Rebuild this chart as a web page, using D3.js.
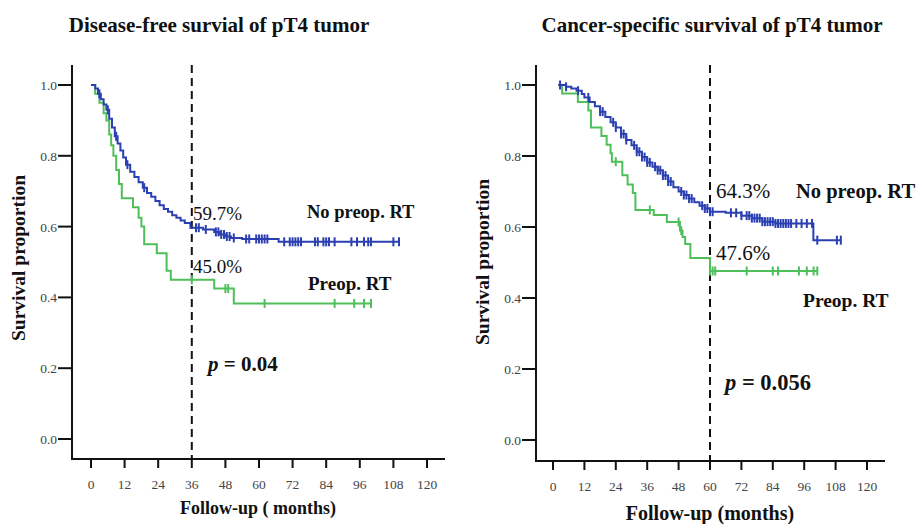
<!DOCTYPE html>
<html>
<head>
<meta charset="utf-8">
<script src="https://cdn.jsdelivr.net/npm/d3@7"></script>
<style>
  body { margin: 0; background: #fff; }
  svg text { font-family: "Liberation Serif", "Times New Roman", serif; }
</style>
</head>
<body>
<div id="chart"></div>
<script>
// ---- data ----
var x_ticks = [0, 12, 24, 36, 48, 60, 72, 84, 96, 108, 120]
var y_ticks = [0.0, 0.2, 0.4, 0.6, 0.8, 1.0]

// disease-free survival, no preop. RT
var dfs_no_t = [0, 1.5, 2.5, 3.5, 4.5, 5.5, 6.5, 7.5, 8.5, 9.5, 10.5, 11.5, 12.5, 14, 15.5, 17, 18.5, 20, 21.5, 23, 24.5, 26, 27.5, 29, 30.5, 32, 33.5, 35.5, 40, 44, 46, 48, 50, 54, 67, 110]
var dfs_no_s = [1.0, 0.99, 0.975, 0.96, 0.945, 0.93, 0.905, 0.88, 0.855, 0.835, 0.815, 0.795, 0.775, 0.755, 0.74, 0.725, 0.71, 0.695, 0.684, 0.672, 0.66, 0.65, 0.642, 0.632, 0.625, 0.617, 0.61, 0.597, 0.592, 0.585, 0.578, 0.572, 0.568, 0.565, 0.557, 0.557]
var dfs_no_cens = [3, 6, 9, 13, 19, 37.5, 38.5, 41, 44.6, 45.5, 46.5, 47.5, 48.5, 49.5, 51, 55.4, 56.5, 59, 60, 61, 62, 63, 69, 71, 72, 73, 74, 75, 80, 81, 83, 84, 85, 87, 93, 95, 97.5, 99, 100, 108, 110]
// disease-free survival, preop. RT
var dfs_pre_t = [0, 1.5, 3, 4.5, 5.5, 6.5, 7.2, 8, 9, 10, 11, 15, 17, 18, 19, 23.5, 27, 28.5, 44, 51, 100]
var dfs_pre_s = [1.0, 0.975, 0.95, 0.92, 0.9, 0.86, 0.83, 0.8, 0.76, 0.72, 0.68, 0.655, 0.625, 0.6, 0.55, 0.525, 0.475, 0.45, 0.425, 0.383, 0.383]
var dfs_pre_cens = [36, 48, 49, 62, 87, 94, 97.5, 100]

// cancer-specific survival, no preop. RT
var css_no_t = [2, 5, 7, 9, 11, 12, 14, 16, 18, 20, 22, 24, 26, 28, 30, 32, 34, 36, 38, 40, 42, 44, 46, 48, 50, 52, 54, 56, 58, 60, 66, 72, 76, 80, 85, 99.5, 110]
var css_no_s = [1.0, 0.995, 0.99, 0.984, 0.975, 0.965, 0.952, 0.94, 0.925, 0.91, 0.895, 0.88, 0.862, 0.845, 0.83, 0.812, 0.797, 0.782, 0.77, 0.76, 0.745, 0.728, 0.712, 0.7, 0.69, 0.68, 0.67, 0.66, 0.652, 0.643, 0.64, 0.632, 0.625, 0.615, 0.61, 0.563, 0.563]
var css_no_cens = [2.7, 5, 9.6, 13.5, 18, 19, 23, 24, 26, 27, 28, 31, 32, 33, 34, 35, 36, 37, 39, 40, 41, 42, 43, 44, 45, 49, 50, 51, 52, 53, 57, 58, 59, 60, 61, 68, 70, 72, 74, 75, 76, 77, 78, 79, 80, 81, 82, 83, 84, 85, 86, 87, 88, 89, 90, 91, 93, 95, 97, 99, 101, 108.5, 110]
// cancer-specific survival, preop. RT
var css_pre_t = [2, 3.5, 9.5, 13.5, 14.5, 18.5, 20.5, 22, 22.5, 26.5, 28.5, 30.5, 31.5, 38.5, 43.5, 48.5, 49.5, 50.5, 52.5, 60, 101]
var css_pre_s = [1.0, 0.976, 0.952, 0.928, 0.88, 0.856, 0.832, 0.808, 0.784, 0.746, 0.72, 0.696, 0.648, 0.634, 0.614, 0.59, 0.572, 0.552, 0.513, 0.476, 0.476]
var css_pre_cens = [24, 37, 48, 49, 60, 61, 62, 74, 84, 86, 94, 97, 99.6, 101]

var blue = "#2a40b2"
var green = "#4fbf5a"

var panels = [
    {
        "title": "Disease-free survial of pT4 tumor", "title_x": 219,
        "xlabel": "Follow-up ( months)", "xlabel_x": 258, "xlabel_y": 514, "xlabel_size": 18,
        "ylabel_x": 25, "ylabel_y": 258, "ylabel_size": 19.5,
        "axis_x": 72, "axis_y": 459, "x0": 91, "x120": 427, "y0": 439, "y1": 85, "x_end": 445,
        "mark": 36,
        "no": [dfs_no_t, dfs_no_s, dfs_no_cens], "pre": [dfs_pre_t, dfs_pre_s, dfs_pre_cens],
        "notes": [
            { "text": "59.7%", "x": 193, "y": 220, "bold": false, "size": 19 },
            { "text": "45.0%", "x": 193, "y": 273, "bold": false, "size": 19 },
            { "text": "No preop. RT", "x": 307, "y": 218, "bold": true, "size": 18.5 },
            { "text": "Preop. RT", "x": 308, "y": 290, "bold": true, "size": 19 }
        ],
        "p": "0.04", "p_x": 208, "p_y": 371, "p_size": 21
    },
    {
        "title": "Cancer-specific survival of pT4 tumor", "title_x": 712,
        "xlabel": "Follow-up (months)", "xlabel_x": 710, "xlabel_y": 520, "xlabel_size": 20,
        "ylabel_x": 489, "ylabel_y": 262, "ylabel_size": 19.5,
        "axis_x": 536, "axis_y": 461, "x0": 553, "x120": 867, "y0": 440, "y1": 85, "x_end": 885,
        "mark": 60,
        "no": [css_no_t, css_no_s, css_no_cens], "pre": [css_pre_t, css_pre_s, css_pre_cens],
        "notes": [
            { "text": "64.3%", "x": 716, "y": 198, "bold": false, "size": 21 },
            { "text": "47.6%", "x": 716, "y": 260, "bold": false, "size": 21 },
            { "text": "No preop. RT", "x": 796, "y": 198, "bold": true, "size": 20.5 },
            { "text": "Preop. RT", "x": 803, "y": 307, "bold": true, "size": 19.5 }
        ],
        "p": "0.056", "p_x": 725, "p_y": 390, "p_size": 22.5
    }
]

var svg = d3.select("#chart").append("svg")
    .attr("width", 919)
    .attr("height", 524)

function value_at(times, surv, t) {
    var i = d3.bisectRight(times, t) - 1
    if (i < 0) i = 0
    return surv[i]
}

function draw_panel(p) {
    var x_scale = d3.scaleLinear().domain([0, 120]).range([p.x0, p.x120])
    var y_scale = d3.scaleLinear().domain([0, 1]).range([p.y0, p.y1])
    var g = svg.append("g")

    // title
    g.append("text")
        .attr("x", p.title_x).attr("y", 32)
        .attr("text-anchor", "middle")
        .attr("font-size", 21).attr("font-weight", "bold")
        .attr("fill", "#111")
        .text(p.title)

    // y axis
    g.append("line")
        .attr("x1", p.axis_x).attr("x2", p.axis_x)
        .attr("y1", 65).attr("y2", p.axis_y)
        .attr("stroke", "#111").attr("stroke-width", 2)
    g.selectAll(".ytick").data(y_ticks).enter().append("line")
        .attr("x1", p.axis_x - 14).attr("x2", p.axis_x)
        .attr("y1", function (d) { return y_scale(d) })
        .attr("y2", function (d) { return y_scale(d) })
        .attr("stroke", "#111").attr("stroke-width", 2)
    g.selectAll(".ylab").data(y_ticks).enter().append("text")
        .attr("x", p.axis_x - 15)
        .attr("y", function (d) { return y_scale(d) + 5 })
        .attr("text-anchor", "end")
        .attr("font-size", 13.5).attr("fill", "#444")
        .text(function (d) { return d.toFixed(1) })

    // x axis
    g.append("line")
        .attr("x1", p.axis_x - 1).attr("x2", p.x_end)
        .attr("y1", p.axis_y).attr("y2", p.axis_y)
        .attr("stroke", "#111").attr("stroke-width", 2)
    g.selectAll(".xtick").data(x_ticks).enter().append("line")
        .attr("x1", function (d) { return x_scale(d) })
        .attr("x2", function (d) { return x_scale(d) })
        .attr("y1", p.axis_y).attr("y2", p.axis_y + 9)
        .attr("stroke", "#111").attr("stroke-width", 2)
    g.selectAll(".xlab").data(x_ticks).enter().append("text")
        .attr("x", function (d) { return x_scale(d) })
        .attr("y", p.axis_y + 30)
        .attr("text-anchor", "middle")
        .attr("font-size", 13.5).attr("fill", "#444")
        .text(function (d) { return d })

    // axis titles
    g.append("text")
        .attr("x", p.xlabel_x).attr("y", p.xlabel_y)
        .attr("text-anchor", "middle")
        .attr("font-size", p.xlabel_size).attr("font-weight", "bold")
        .attr("fill", "#111")
        .text(p.xlabel)
    g.append("text")
        .attr("transform", "translate(" + p.ylabel_x + "," + p.ylabel_y + ") rotate(-90)")
        .attr("text-anchor", "middle")
        .attr("font-size", p.ylabel_size).attr("font-weight", "bold")
        .attr("fill", "#111")
        .text("Survival proportion")

    // dashed reference line
    g.append("line")
        .attr("x1", x_scale(p.mark)).attr("x2", x_scale(p.mark))
        .attr("y1", 65).attr("y2", p.axis_y)
        .attr("stroke", "#111").attr("stroke-width", 2)
        .attr("stroke-dasharray", "8,5")

    // curves
    var line = d3.line()
        .x(function (d) { return x_scale(d[0]) })
        .y(function (d) { return y_scale(d[1]) })
        .curve(d3.curveStepAfter)
    var series = [[p.pre, green], [p.no, blue]]
    series.forEach(function (s) {
        var times = s[0][0], surv = s[0][1], cens = s[0][2]
        var pts = times.map(function (t, i) { return [t, surv[i]] })
        g.append("path")
            .attr("d", line(pts))
            .attr("fill", "none")
            .attr("stroke", s[1]).attr("stroke-width", 2)
        g.selectAll(null).data(cens).enter().append("line")
            .attr("x1", function (d) { return x_scale(d) })
            .attr("x2", function (d) { return x_scale(d) })
            .attr("y1", function (d) { return y_scale(value_at(times, surv, d)) - 4.5 })
            .attr("y2", function (d) { return y_scale(value_at(times, surv, d)) + 4.5 })
            .attr("stroke", s[1]).attr("stroke-width", 2)
    })

    // annotations
    p.notes.forEach(function (n) {
        g.append("text")
            .attr("x", n.x).attr("y", n.y)
            .attr("font-size", n.size)
            .attr("font-weight", n.bold ? "bold" : "normal")
            .attr("fill", "#111")
            .text(n.text)
    })
    var pt = g.append("text")
        .attr("x", p.p_x).attr("y", p.p_y)
        .attr("font-size", p.p_size).attr("font-weight", "bold")
        .attr("fill", "#111")
    pt.append("tspan").attr("font-style", "italic").text("p")
    pt.append("tspan").text(" = " + p.p)
}

panels.forEach(draw_panel)
</script>
</body>
</html>
